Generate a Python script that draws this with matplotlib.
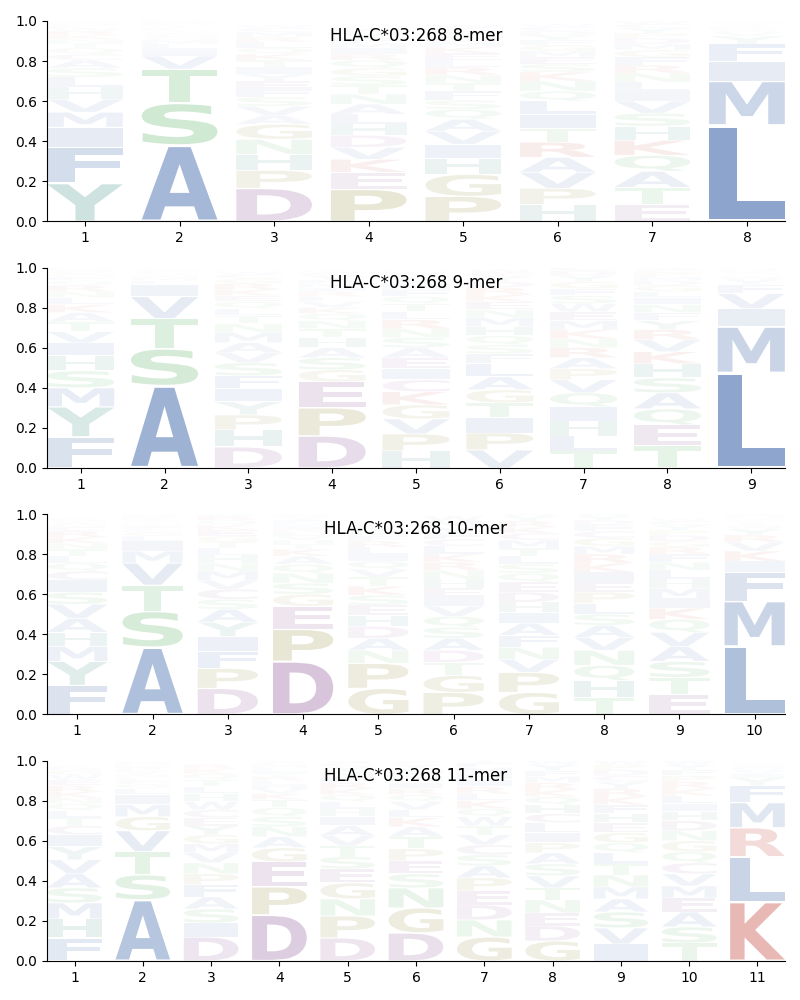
import matplotlib
matplotlib.use("Agg")
import matplotlib.pyplot as plt
from matplotlib.textpath import TextPath
from matplotlib.patches import PathPatch
from matplotlib.font_manager import FontProperties
from matplotlib.transforms import Affine2D

titles = ["HLA-C*03:268 8-mer", "HLA-C*03:268 9-mer",
          "HLA-C*03:268 10-mer", "HLA-C*03:268 11-mer"]

# letter probabilities per position
logo_8mer = [
    dict(Y=.19, F=.18, I=.10, M=.075, V=.065, H=.06, L=.05, S=.045, A=.04, C=.03, Q=.03,
         T=.025, N=.02, K=.02, R=.02, W=.015, E=.01, D=.01, G=.01, P=.005),
    dict(A=.38, S=.21, T=.17, V=.065, I=.035, L=.025, M=.02, G=.015, C=.015, Q=.01, N=.01,
         F=.01, Y=.01, K=.005, P=.005, E=.005, D=.005, R=.005, W=.005),
    dict(D=.165, P=.09, H=.08, N=.075, G=.075, A=.045, V=.045, S=.045, F=.04, E=.04, Y=.035,
         I=.035, T=.035, K=.03, Q=.03, L=.03, R=.025, M=.025, C=.02, W=.015),
    dict(P=.16, E=.085, K=.065, V=.06, D=.06, H=.055, L=.05, A=.05, N=.05, T=.045, S=.045,
         G=.04, Q=.04, R=.03, I=.03, M=.025, F=.025, Y=.025, W=.02, C=.015),
    dict(P=.125, G=.11, H=.08, I=.07, V=.065, A=.06, Q=.05, S=.045, F=.045, T=.04, N=.04,
         R=.04, L=.035, E=.035, K=.03, M=.025, D=.025, Y=.025, C=.02, W=.015),
    dict(H=.085, P=.08, V=.08, A=.075, R=.075, T=.07, I=.07, L=.065, Q=.05, N=.05, K=.045,
         S=.04, E=.035, M=.03, G=.03, F=.025, Y=.025, D=.02, C=.02, W=.015),
    dict(E=.085, T=.085, A=.08, Q=.08, K=.075, H=.07, S=.065, V=.06, I=.05, L=.045, N=.045,
         R=.04, F=.04, G=.035, M=.03, D=.03, P=.025, Y=.025, C=.02, W=.015),
    dict(L=.48, M=.22, I=.10, F=.085, Y=.04, V=.02, W=.01, K=.01, R=.01, T=.005, A=.005,
         Q=.005, S=.005, H=.005),
]

logo_9mer = [
    dict(F=.155, Y=.15, M=.095, S=.085, H=.075, I=.065, V=.055, T=.05, A=.045, K=.04, L=.035,
         N=.03, R=.03, Q=.025, E=.02, G=.015, C=.01, W=.01, P=.005, D=.005),
    dict(A=.41, S=.185, T=.15, V=.11, I=.06, L=.02, M=.015, F=.01, Q=.01, C=.01, G=.005,
         N=.005, Y=.005, K=.005),
    dict(D=.105, H=.085, P=.075, Y=.065, I=.065, F=.065, S=.065, V=.05, A=.05, M=.05, N=.045,
         T=.04, L=.035, Q=.035, E=.03, K=.03, R=.03, G=.025, C=.02, W=.015),
    dict(D=.16, P=.14, E=.13, G=.06, S=.06, A=.05, H=.05, T=.045, N=.04, Q=.035, K=.03,
         V=.03, L=.025, R=.025, I=.02, M=.02, F=.02, Y=.02, C=.015, W=.01),
    dict(H=.085, P=.085, V=.075, G=.07, K=.065, C=.06, I=.055, E=.055, A=.05, S=.05, N=.045,
         R=.045, L=.04, T=.04, Q=.035, F=.035, M=.03, Y=.025, D=.02, W=.015),
    dict(V=.09, P=.085, I=.075, T=.075, G=.065, A=.065, L=.065, F=.05, S=.045, Q=.045, H=.045,
         M=.045, N=.04, E=.04, K=.035, R=.035, D=.03, Y=.025, C=.02, W=.015),
    dict(T=.085, L=.075, H=.075, I=.07, Q=.07, V=.065, P=.055, A=.055, N=.045, R=.05, W=.04,
         K=.045, M=.045, E=.045, S=.04, F=.035, G=.035, Y=.03, D=.025, C=.02),
    dict(T=.11, E=.105, Q=.08, A=.08, S=.075, H=.07, K=.06, V=.06, R=.05, Y=.045, F=.04,
         N=.04, I=.035, L=.03, G=.03, D=.025, M=.02, P=.02, C=.015, W=.01),
    dict(L=.475, M=.23, I=.09, V=.075, F=.045, Y=.025, W=.015, T=.01, A=.01, K=.005, R=.005,
         Q=.005, S=.005, H=.005),
]

logo_10mer = [
    dict(F=.145, Y=.12, M=.075, H=.07, A=.07, V=.07, S=.06, I=.06, C=.045, Q=.04, L=.035,
         T=.035, N=.03, K=.03, R=.03, E=.02, G=.015, W=.01, D=.01, P=.01),
    dict(A=.335, S=.18, T=.13, V=.11, M=.06, I=.05, L=.025, G=.02, C=.015, F=.015, Q=.01,
         N=.01, Y=.01, K=.01, R=.005, E=.005, D=.005, H=.005, W=.005),
    dict(D=.13, P=.10, F=.085, I=.075, Y=.07, A=.065, S=.05, C=.05, V=.045, M=.045, N=.04,
         H=.04, L=.035, T=.03, G=.03, E=.03, K=.025, Q=.025, R=.02, W=.015),
    dict(D=.265, P=.16, E=.115, G=.06, S=.055, N=.05, Q=.045, A=.04, K=.035, T=.025, H=.02,
         V=.02, L=.02, R=.015, I=.015, M=.015, F=.015, Y=.015, C=.01, W=.005),
    dict(G=.13, P=.125, N=.065, A=.06, D=.06, H=.055, E=.05, S=.05, K=.045, T=.045, V=.04,
         Q=.04, I=.035, L=.035, R=.03, F=.025, M=.025, Y=.02, C=.015, W=.01),
    dict(P=.11, G=.085, T=.065, D=.06, A=.06, S=.055, Q=.055, V=.05, I=.045, E=.045, H=.045,
         N=.045, R=.04, K=.04, L=.04, C=.035, F=.03, Y=.03, M=.03, W=.025),
    dict(G=.11, P=.10, V=.065, N=.06, F=.06, A=.06, I=.055, H=.05, D=.05, E=.05, Q=.045,
         S=.045, L=.04, T=.04, M=.04, C=.035, K=.03, R=.03, Y=.025, W=.015),
    dict(T=.085, H=.085, Q=.075, N=.075, V=.065, A=.06, S=.055, L=.055, P=.055, E=.05, I=.05,
         K=.045, R=.045, M=.04, G=.04, C=.035, F=.03, D=.025, Y=.02, W=.015),
    dict(E=.10, T=.085, S=.08, A=.075, V=.07, Q=.065, K=.055, I=.05, M=.05, H=.045, L=.045,
         N=.04, F=.04, R=.035, G=.03, D=.03, P=.025, Y=.025, C=.02, W=.015),
    dict(L=.34, M=.225, F=.145, I=.055, K=.05, V=.045, R=.035, Y=.03, W=.015, A=.01, T=.01,
         Q=.01, S=.01, H=.01, N=.005, E=.005),
]

logo_11mer = [
    dict(F=.115, H=.095, M=.08, S=.075, A=.07, V=.07, Y=.065, I=.06, C=.045, T=.04, L=.035,
         Q=.035, N=.03, K=.03, R=.03, E=.03, W=.025, G=.02, D=.015, P=.01),
    dict(A=.305, S=.125, T=.115, V=.105, G=.07, M=.06, I=.05, L=.03, Q=.02, C=.02, F=.015,
         N=.015, Y=.015, K=.01, R=.01, E=.01, D=.01, H=.01, P=.005, W=.005),
    dict(D=.12, I=.07, S=.07, A=.06, F=.06, P=.055, N=.055, V=.05, M=.045, G=.045, Y=.045,
         E=.04, C=.04, W=.04, H=.04, L=.035, T=.035, Q=.03, K=.025, R=.02),
    dict(D=.23, P=.14, E=.125, G=.07, A=.055, N=.05, S=.05, Q=.045, T=.04, K=.03, V=.025,
         H=.02, L=.02, R=.02, Y=.015, I=.015, F=.015, M=.015, C=.01, W=.01),
    dict(D=.115, P=.11, N=.085, G=.08, E=.07, S=.06, T=.055, V=.05, A=.05, I=.045, H=.04,
         L=.035, Q=.035, K=.03, R=.03, F=.03, M=.025, Y=.025, C=.02, W=.015),
    dict(D=.14, G=.125, N=.10, S=.07, E=.065, P=.06, T=.06, A=.05, K=.045, L=.04, V=.04,
         Q=.035, R=.03, I=.03, H=.025, F=.025, M=.02, Y=.02, C=.01, W=.01),
    dict(G=.12, N=.085, D=.075, E=.07, P=.065, A=.06, S=.055, C=.05, V=.05, T=.045, W=.045,
         Q=.04, K=.04, L=.035, R=.035, I=.035, H=.03, M=.03, F=.025, Y=.02),
    dict(G=.10, D=.075, E=.065, N=.065, T=.06, V=.06, S=.06, A=.055, P=.05, I=.05, L=.05,
         C=.045, H=.045, Q=.04, K=.035, R=.035, M=.03, F=.03, Y=.03, W=.02),
    dict(I=.085, V=.08, S=.08, A=.065, M=.06, N=.06, T=.055, L=.055, Q=.05, G=.05, E=.05,
         H=.045, F=.045, K=.04, R=.04, Y=.035, C=.03, D=.03, P=.025, W=.02),
    dict(T=.09, S=.08, A=.075, E=.07, M=.06, V=.06, C=.055, Q=.055, G=.055, N=.05, D=.05,
         H=.045, I=.04, L=.04, K=.035, R=.035, P=.03, F=.03, Y=.025, W=.02),
    dict(K=.295, L=.225, R=.145, M=.125, F=.085, Y=.04, I=.02, V=.015, W=.01, H=.01, A=.01,
         Q=.005, S=.005, T=.005, N=.005),
]

logos = [logo_8mer, logo_9mer, logo_10mer, logo_11mer]

# base colour of each residue group
blue, green, teal, olive, mauve, red = "#4c72b0", "#55b060", "#3f8f84", "#958c3a", "#915a9a", "#c4483f"
aa_colors = {}
for aa in "AVILMFW":
    aa_colors[aa] = blue
for aa in "STNQ":
    aa_colors[aa] = green
for aa in "YH":
    aa_colors[aa] = teal
for aa in "GP":
    aa_colors[aa] = olive
for aa in "DEC":
    aa_colors[aa] = mauve
for aa in "KR":
    aa_colors[aa] = red

font = FontProperties(family="DejaVu Sans", weight="bold")


def draw_glyph(ax, ch, x, bottom, height, color, alpha, width=0.8, vpad=0.05):
    tp = TextPath((0, 0), ch, size=1, prop=font)
    bb = tp.get_extents()
    h = height * (1 - vpad)
    y0 = bottom + height * vpad / 2
    tr = (Affine2D().translate(-bb.x0, -bb.y0)
          .scale(width / bb.width, h / bb.height)
          .translate(x - width / 2, y0))
    ax.add_patch(PathPatch(tr.transform_path(tp), facecolor=color,
                           edgecolor="none", alpha=alpha, lw=0))


fig, axes = plt.subplots(4, 1, figsize=(8, 10), dpi=100)
fig.subplots_adjust(left=0.059, right=0.981, top=0.979, bottom=0.039, hspace=0.23)

for ax, logo, title in zip(axes, logos, titles):
    n = len(logo)
    for i, col in enumerate(logo):
        pos = i + 1
        bottom = 0.0
        for aa, val in sorted(col.items(), key=lambda kv: -kv[1]):
            alpha = min(1.0, 1.32 * val)
            draw_glyph(ax, aa, pos, bottom, val, aa_colors[aa], alpha)
            bottom += val
    ax.set_xlim(0.6, n + 0.4)
    ax.set_ylim(0, 1)
    ax.set_xticks(range(1, n + 1))
    ax.set_yticks([0, 0.2, 0.4, 0.6, 0.8, 1.0])
    ax.spines["top"].set_visible(False)
    ax.spines["right"].set_visible(False)
    ax.text(0.5, 0.925, title, transform=ax.transAxes, ha="center", va="center", fontsize=12)

fig.savefig("out.png", dpi=100)
